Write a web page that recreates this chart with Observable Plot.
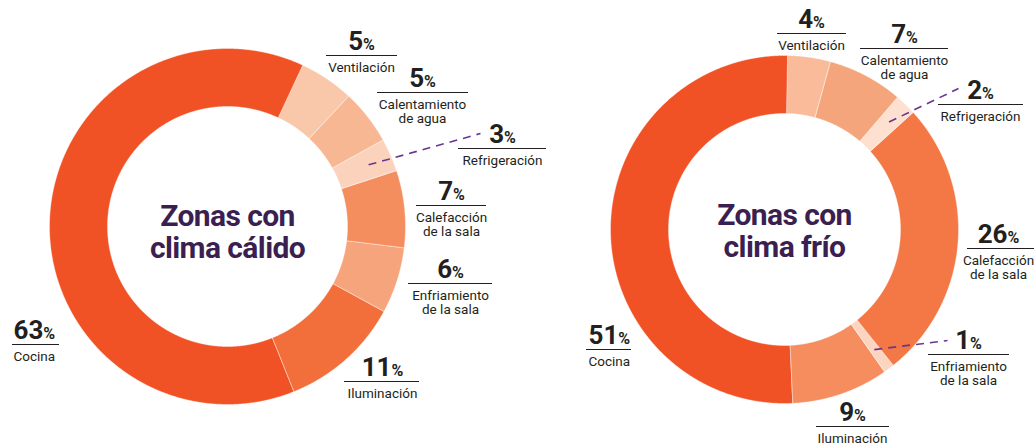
<!DOCTYPE html>
<html><head><meta charset="utf-8">
<script src="https://cdn.jsdelivr.net/npm/d3@7"></script>
<script src="https://cdn.jsdelivr.net/npm/@observablehq/plot@0.6"></script>
<style>
body{margin:0;background:#fff;}
#chart svg{display:block;}
</style></head><body><div id="chart"></div>
<script>
// ---- data ----
const categories = ["Ventilación","Calentamiento de agua","Refrigeración","Calefacción de la sala","Enfriamiento de la sala","Iluminación","Cocina"];
const categoryLines = ["Ventilación","Calentamiento\nde agua","Refrigeración","Calefacción\nde la sala","Enfriamiento\nde la sala","Iluminación","Cocina"];
const valuesCalido = [5,5,3,7,6,11,63];
const valuesFrio = [4,7,2,26,1,9,51];
const titles = ["Zonas con\nclima cálido","Zonas con\nclima frío"];

// ---- styles ----
const colorsCalido = ["#f9c7aa","#f7b793","#fbd3bd","#f58e5f","#f6a47b","#f26e3b","#f05125"];
const colorsFrio = ["#f9bb9a","#f5a57b","#fde0cf","#f37845","#fcd5c1","#f58d5f","#f05125"];
const titleColor = "#3b1f50";
const leaderColor = "#6a3590";
const textColor = "#231f20";

// ---- layout ----
const donuts = [
 {cx:227, cy:226, r0:120, r1:178, start:25, titleY:231, title:titles[0], values:valuesCalido, colors:colorsCalido,
  labelX:[361,422,502,451,450,382,13], lineX1:[326,377,458,416,408,344,12], lineX2:[397,468,546,486,492,419,59],
  lineY:[55,92,148,205,283,381,344], leaders:{2:[480,133]}},
 {cx:784, cy:229, r0:116, r1:174, start:1, titleY:230, title:titles[1], values:valuesFrio, colors:colorsFrio,
  labelX:[811,904,980,998,968,852,588], lineX1:[777,860,938,967,928,816,586], lineX2:[846,948,1023,1040,1009,889,631],
  lineY:[33,48,104,248,354,426,349], leaders:{2:[958,88],4:[947,340]}}
];

const rad = Math.PI/180;
const slicePts = [], labels = [], leaders = [];
donuts.forEach((D, di) => {
  const pie = d3.pie().sort(null).startAngle(D.start*rad).endAngle(D.start*rad + 2*Math.PI);
  const arcs = pie(D.values);
  arcs.forEach((a, i) => {
    const key = di + "-" + i;
    const step = 0.25*rad;
    const n = Math.max(2, Math.ceil((a.endAngle - a.startAngle)/step));
    for (let k = 0; k <= n; k++) {
      const t = a.startAngle + (a.endAngle - a.startAngle)*k/n;
      slicePts.push({key, color: D.colors[i], px: D.cx + D.r1*Math.sin(t), py: D.cy - D.r1*Math.cos(t)});
    }
    for (let k = n; k >= 0; k--) {
      const t = a.startAngle + (a.endAngle - a.startAngle)*k/n;
      slicePts.push({key, color: D.colors[i], px: D.cx + D.r0*Math.sin(t), py: D.cy - D.r0*Math.cos(t)});
    }
    labels.push({x: D.labelX[i], x1: D.lineX1[i], x2: D.lineX2[i], ly: D.lineY[i],
      pct: D.values[i], name: categoryLines[i], start: categories[i] === "Cocina"});
    if (D.leaders[i]) {
      const mid = (a.startAngle + a.endAngle)/2, rm = (D.r0 + D.r1)/2 + 5;
      leaders.push({x1: D.cx + rm*Math.sin(mid), y1: D.cy - rm*Math.cos(mid), x2: D.leaders[i][0], y2: D.leaders[i][1]});
    }
  });
});

const mid = labels.filter(d => !d.start), left = labels.filter(d => d.start);
const pctOpts = (anchor) => ({x: "x", y: d => d.ly - 6, text: d => d.pct + "%", fontSize: 26, fontWeight: 700,
  lineAnchor: "bottom", textAnchor: anchor, fill: textColor});
const nameOpts = (anchor) => ({x: "x", y: d => d.ly + 6, text: "name", fontSize: 13.5, lineAnchor: "top",
  lineHeight: 1.07, textAnchor: anchor, fill: textColor});

const chart = Plot.plot({
  width: 1034, height: 446, margin: 0,
  x: {domain: [0, 1034], range: [0, 1034], axis: null},
  y: {domain: [0, 446], range: [0, 446], axis: null},
  color: {type: "identity"},
  style: {fontFamily: "Roboto, sans-serif", background: "#fff"},
  marks: [
    Plot.line(slicePts, {x: "px", y: "py", z: "key", fill: "color", stroke: "white", strokeWidth: 0.4, curve: "linear-closed"}),
    Plot.link(leaders, {x1: "x1", y1: "y1", x2: "x2", y2: "y2", stroke: leaderColor, strokeWidth: 1.6, strokeDasharray: "8,6"}),
    Plot.ruleY(labels, {y: "ly", x1: "x1", x2: "x2", stroke: textColor, strokeWidth: 1}),
    Plot.text(mid, pctOpts("middle")),
    Plot.text(left, pctOpts("start")),
    Plot.text(mid, nameOpts("middle")),
    Plot.text(left, nameOpts("start")),
    Plot.text(donuts, {x: "cx", y: "titleY", text: "title", fontSize: 30, fontWeight: 700, fill: titleColor, lineHeight: 1.07})
  ]
});
chart.querySelectorAll('text').forEach(t => {
  const s = t.textContent;
  if (s.startsWith("Zonas")) { t.style.letterSpacing = "-0.6px"; return; }
  if (t.children.length) return;
  if (!/^\d+%$/.test(s)) return;
  t.textContent = s.replace("%", "");
  const ts = document.createElementNS("http://www.w3.org/2000/svg", "tspan");
  ts.setAttribute("font-size", "16");
  ts.textContent = "%";
  t.appendChild(ts);
});
document.getElementById("chart").appendChild(chart);
</script></body></html>
